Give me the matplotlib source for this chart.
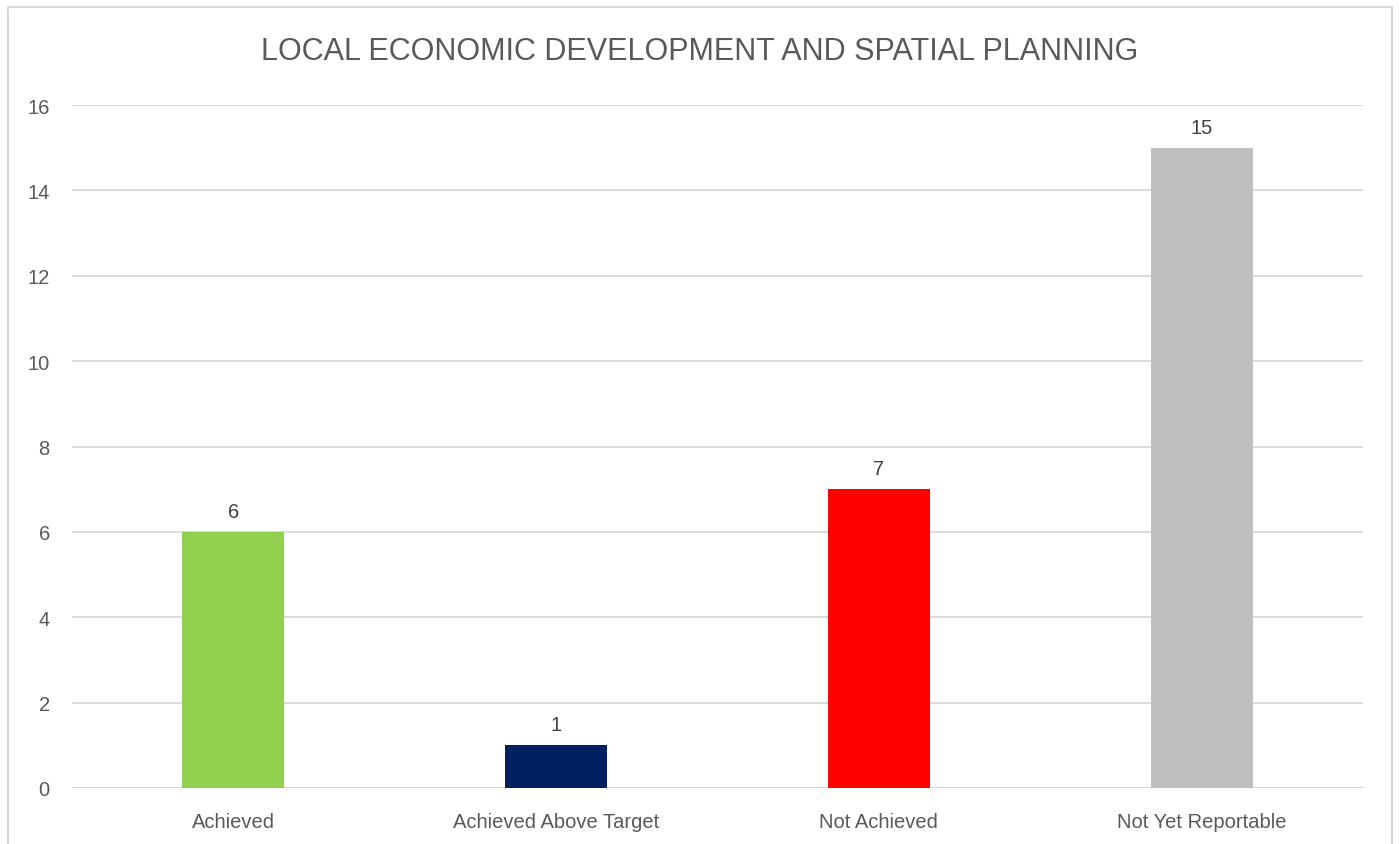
import matplotlib.pyplot as plt
from matplotlib.patches import Rectangle

categories = ["Achieved", "Achieved Above Target", "Not Achieved", "Not Yet Reportable"]
values = [6, 1, 7, 15]
colors = ["#92D050", "#002060", "#FF0000", "#BFBFBF"]
yticks = [0, 2, 4, 6, 8, 10, 12, 14, 16]

plt.rcParams['font.family'] = ['Liberation Sans', 'DejaVu Sans']
txt = "#595959"

fig = plt.figure(figsize=(13.99, 8.45), dpi=100)
ax = fig.add_axes([72 / 1399, 1 - 789 / 845, (1363 - 72) / 1399, (789 - 106) / 845])

x = range(len(categories))
bars = ax.bar(x, values, width=0.316, color=colors, zorder=3)
for b, v in zip(bars, values):
    ax.annotate(str(v), (b.get_x() + b.get_width() / 2, v), xytext=(0, 8),
                textcoords="offset points", ha="center", va="bottom",
                fontsize=14.5, color="#404040")

ax.set_xlim(-0.5, 3.5)
ax.set_ylim(0, 16)
ax.set_yticks(yticks)
ax.set_xticks(list(x))
ax.set_xticklabels(categories)
ax.tick_params(axis="both", length=0, labelsize=14.5, labelcolor=txt)
ax.tick_params(axis="y", pad=16)
ax.tick_params(axis="x", pad=17)
ax.grid(axis="y", color="#D9D9D9", linewidth=1.3, zorder=0)
for s in ax.spines.values():
    s.set_visible(False)
ax.axhline(0, color="#D9D9D9", linewidth=1.3, zorder=2)

fig.text(0.5, 1 - 52 / 845, "LOCAL ECONOMIC DEVELOPMENT AND SPATIAL PLANNING",
         ha="center", va="center", fontsize=22, color=txt)

fig.patches.append(Rectangle((8 / 1399, -0.1), (1392 - 8) / 1399, 1.1 - 8 / 845,
                             transform=fig.transFigure, fill=False,
                             edgecolor="#D9D9D9", linewidth=1.5))

fig.savefig("out.png", dpi=100)
